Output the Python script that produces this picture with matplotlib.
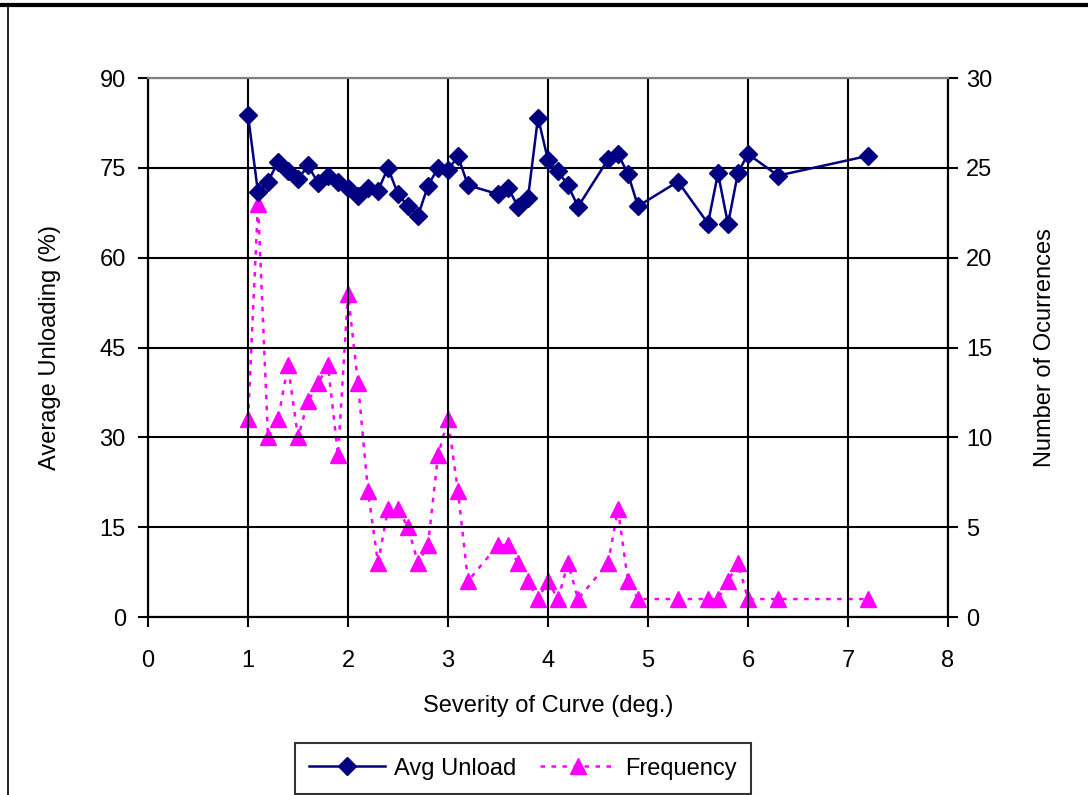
import matplotlib
matplotlib.use("Agg")
import matplotlib.pyplot as plt
from matplotlib.patches import Rectangle

plt.rcParams['font.family'] = ['Liberation Sans', 'DejaVu Sans']

# Curve severity (degrees)
severity = [1.0, 1.1, 1.2, 1.3, 1.4, 1.5, 1.6, 1.7, 1.8, 1.9, 2.0, 2.1, 2.2, 2.3,
            2.4, 2.5, 2.6, 2.7, 2.8, 2.9, 3.0, 3.1, 3.2, 3.5, 3.6, 3.7, 3.8, 3.9,
            4.0, 4.1, 4.2, 4.3, 4.6, 4.7, 4.8, 4.9, 5.3, 5.6, 5.7, 5.8, 5.9, 6.0,
            6.3, 7.2]

# Average unloading (%)
avg_unload = [83.8, 70.9, 72.7, 76.0, 74.5, 73.1, 75.4, 72.5, 73.6, 72.7, 71.6,
              70.3, 71.7, 71.2, 75.0, 70.6, 68.6, 67.0, 72.0, 75.0, 74.7, 76.9,
              72.1, 70.6, 71.7, 68.5, 70.0, 83.4, 76.3, 74.4, 72.1, 68.5, 76.4,
              77.3, 74.0, 68.6, 72.7, 65.7, 74.1, 65.6, 74.2, 77.3, 73.7, 77.0]

# Number of occurrences
frequency = [11, 23, 10, 11, 14, 10, 12, 13, 14, 9, 18, 13, 7, 3, 6, 6, 5, 3, 4,
             9, 11, 7, 2, 4, 4, 3, 2, 1, 2, 1, 3, 1, 3, 6, 2, 1, 1, 1, 1, 2, 3,
             1, 1, 1]

x_ticks = [0, 1, 2, 3, 4, 5, 6, 7, 8]
left_ticks = [0, 15, 30, 45, 60, 75, 90]
right_ticks = [0, 5, 10, 15, 20, 25, 30]

FS = 17

fig = plt.figure(figsize=(10.88, 7.95), dpi=100)
ax = fig.add_axes([148 / 1088, 1 - 617 / 795, 800 / 1088, 539 / 795])
ax2 = ax.twinx()

ax.set_xlim(0, 8)
ax.set_ylim(0, 90)
ax2.set_ylim(0, 30)
ax.set_xticks(x_ticks)
ax.set_yticks(left_ticks)
ax2.set_yticks(right_ticks)

ax.grid(True, color='black', linewidth=1.5)
ax.set_axisbelow(True)

for a in (ax, ax2):
    for s in ('left', 'right', 'bottom'):
        a.spines[s].set_color('black')
        a.spines[s].set_linewidth(1.5)
    a.spines['top'].set_color('#808080')
    a.spines['top'].set_linewidth(1.5)
    a.tick_params(direction='out', length=7, width=1.5, labelsize=FS,
                  colors='black', pad=6)

ax.tick_params(axis='x', pad=17)
ax.tick_params(axis='y', pad=9)

l1, = ax.plot(severity, avg_unload, color='#000080', linewidth=1.8,
              marker='D', markersize=9, label='Avg Unload', zorder=5)
l2, = ax2.plot(severity, frequency, color='#FF00FF', linewidth=1.8,
               linestyle=(0, (1.8, 2.6)), marker='^', markersize=12,
               label='Frequency', zorder=4)
ax.set_zorder(ax2.get_zorder() + 1)
ax.patch.set_visible(False)

ax.set_xlabel('Severity of Curve (deg.)', fontsize=FS, labelpad=16)
ax.set_ylabel('Average Unloading (%)', fontsize=FS, labelpad=28)
ax2.set_ylabel('Number of Ocurrences', fontsize=FS, labelpad=30)

leg = fig.legend(handles=[l1, l2], loc='center', ncol=2,
                 bbox_to_anchor=(523 / 1088, 1 - 768.5 / 795), fontsize=FS,
                 frameon=True, fancybox=False, edgecolor='black',
                 handlelength=3.2, columnspacing=1.0, handletextpad=0.4,
                 borderpad=0.6, borderaxespad=0)
leg.get_frame().set_linewidth(1.5)

# Outer chart frame
fig.patches.append(Rectangle((7.5 / 1088, -0.1), 1.2, 1 - 5 / 795 + 0.1,
                             transform=fig.transFigure, fill=False,
                             edgecolor='black', linewidth=1.2))
fig.add_artist(plt.Line2D([0, 1], [1 - 4.5 / 795, 1 - 4.5 / 795],
                          transform=fig.transFigure, color='black',
                          linewidth=3))

fig.savefig('out.png', dpi=100)
